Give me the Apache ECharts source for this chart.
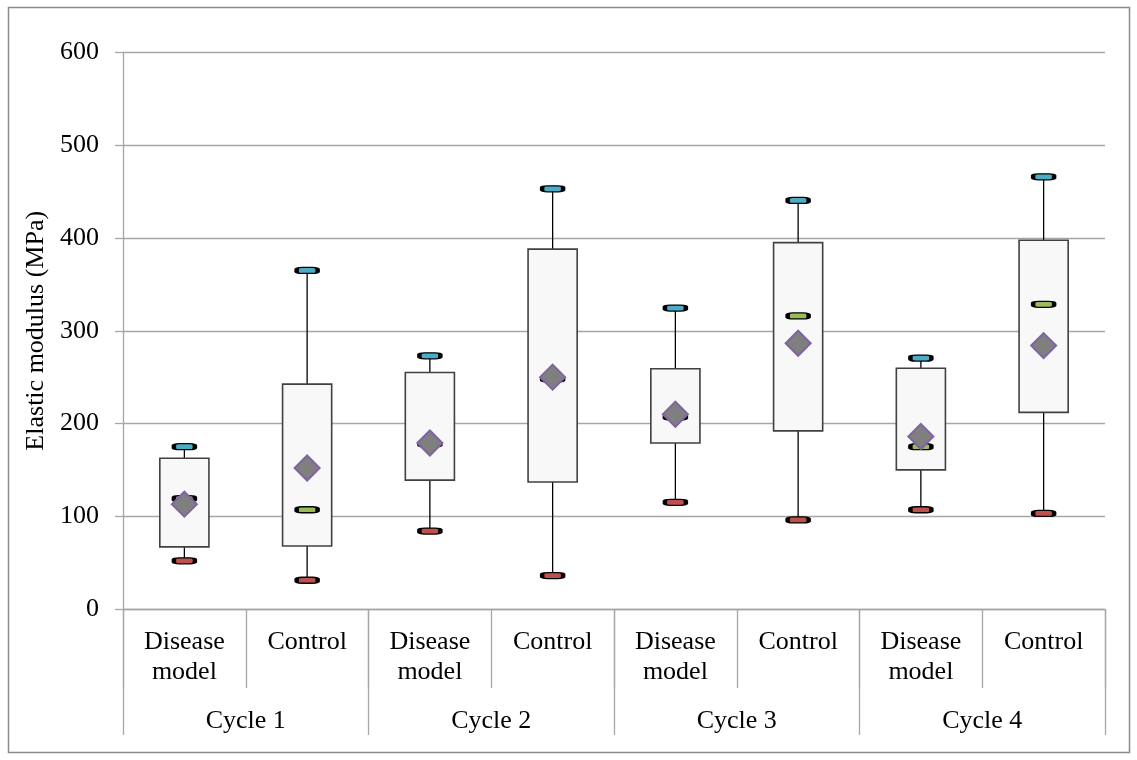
<!DOCTYPE html>
<html>
<head>
<meta charset="utf-8">
<title>Elastic modulus by cycle</title>
<script src="https://cdn.jsdelivr.net/npm/echarts@6/dist/echarts.min.js"></script>
<style>
  html, body { margin: 0; padding: 0; background: #ffffff; }
  #chart { width: 1137px; height: 760px; }
</style>
</head>
<body>
<div id="chart"></div>
<script>
// Groups along the x axis (two per cycle)
const categories = ['Disease\nmodel', 'Control', 'Disease\nmodel', 'Control',
                    'Disease\nmodel', 'Control', 'Disease\nmodel', 'Control'];
const cycles = ['Cycle 1', 'Cycle 2', 'Cycle 3', 'Cycle 4'];
const yTicks = { min: 0, max: 600, interval: 100 };

// Five-number summaries and means per group (MPa)
const minVals    = [52, 31, 84, 36, 115, 96, 107, 103];
const q1Vals     = [67, 68, 139, 137, 179, 192, 150, 212];
const medianVals = [119, 107, 178, 248, 207, 316, 175, 328.5];
const q3Vals     = [162.5, 242.5, 255, 388, 259, 395, 259.5, 397.5];
const maxVals    = [175, 365, 273, 453, 324.5, 440.5, 270.5, 466];
const meanVals   = [113, 152, 179, 250, 210, 286.5, 186, 284];

const FONT = "'Liberation Serif', 'Times New Roman', serif";
const AXIS_GRAY = '#a6a6a6';
const FS = 26;

const boxData = categories.map((c, i) => [i, minVals[i], q1Vals[i], medianVals[i], q3Vals[i], maxVals[i]]);
const pts = arr => arr.map((v, i) => [i, v]);

const chart = echarts.init(document.getElementById('chart'), null, { renderer: 'canvas' });

// Box (Q1..Q3) with whiskers from min to Q1 and Q3 to max
function renderBox(params, api) {
  const i = api.value(0);
  const pMin = api.coord([i, api.value(1)]);
  const pQ1 = api.coord([i, api.value(2)]);
  const pQ3 = api.coord([i, api.value(4)]);
  const pMax = api.coord([i, api.value(5)]);
  const w = api.size([1, 0])[0] * 0.4;
  const x = pQ1[0];
  const lineStyle = { stroke: '#000000', lineWidth: 1.3 };
  return {
    type: 'group',
    children: [
      { type: 'line', shape: { x1: x, y1: pMin[1], x2: x, y2: pQ1[1] }, style: lineStyle },
      { type: 'line', shape: { x1: x, y1: pQ3[1], x2: x, y2: pMax[1] }, style: lineStyle },
      {
        type: 'rect',
        shape: { x: x - w / 2, y: pQ3[1], width: w, height: pQ1[1] - pQ3[1] },
        style: { fill: '#f8f8f8', stroke: '#404040', lineWidth: 1.6 }
      }
    ]
  };
}

const capStyle = color => ({ color: color, borderColor: '#000000', borderWidth: 2.4, opacity: 1 });

const option = {
  backgroundColor: '#ffffff',
  animation: false,
  textStyle: { fontFamily: FONT },
  graphic: [{
    type: 'rect',
    shape: { x: 8.5, y: 7.5, width: 1121, height: 745 },
    style: { fill: 'none', stroke: '#8c8c8c', lineWidth: 1.5 },
    silent: true,
    z: -10
  }],
  grid: { left: 123, right: 32, top: 52.5, bottom: 151, containLabel: false },
  xAxis: [
    {
      type: 'category',
      data: categories,
      position: 'bottom',
      boundaryGap: true,
      axisLine: { show: true, lineStyle: { color: AXIS_GRAY, width: 1.3 } },
      axisTick: { show: true, interval: 0, length: 79, lineStyle: { color: AXIS_GRAY, width: 1.3 } },
      axisLabel: {
        interval: 0, margin: 18, color: '#000000', fontFamily: FONT, fontSize: FS,
        lineHeight: 30, verticalAlign: 'top'
      },
      splitLine: { show: false }
    },
    {
      type: 'category',
      data: cycles,
      position: 'bottom',
      offset: 0,
      boundaryGap: true,
      axisLine: { show: false },
      axisTick: { show: true, interval: 0, length: 126, lineStyle: { color: AXIS_GRAY, width: 1.3 } },
      axisLabel: {
        interval: 0, margin: 99, color: '#000000', fontFamily: FONT, fontSize: FS,
        verticalAlign: 'top'
      },
      splitLine: { show: false }
    }
  ],
  yAxis: {
    type: 'value',
    min: yTicks.min,
    max: yTicks.max,
    interval: yTicks.interval,
    name: 'Elastic modulus (MPa)',
    nameLocation: 'middle',
    nameRotate: 90,
    nameGap: 70,
    nameTextStyle: { color: '#000000', fontFamily: FONT, fontSize: FS },
    axisLine: { show: true, lineStyle: { color: AXIS_GRAY, width: 1.3 } },
    axisTick: { show: true, inside: false, length: 8, lineStyle: { color: AXIS_GRAY, width: 1.3 } },
    axisLabel: { margin: 24, color: '#000000', fontFamily: FONT, fontSize: FS },
    splitLine: { show: true, lineStyle: { color: AXIS_GRAY, width: 1.3 } }
  },
  series: [
    {
      name: 'Box',
      type: 'custom',
      xAxisIndex: 0,
      renderItem: renderBox,
      data: boxData,
      encode: { x: 0, y: [1, 2, 3, 4, 5] },
      z: 2
    },
    {
      name: 'Max',
      type: 'scatter',
      xAxisIndex: 0,
      data: pts(maxVals),
      symbol: 'roundRect',
      symbolSize: [21, 6],
      itemStyle: capStyle('#4bacc6'),
      z: 3
    },
    {
      name: 'Min',
      type: 'scatter',
      xAxisIndex: 0,
      data: pts(minVals),
      symbol: 'roundRect',
      symbolSize: [21, 6],
      itemStyle: capStyle('#c0504d'),
      z: 3
    },
    {
      name: 'Median',
      type: 'scatter',
      xAxisIndex: 0,
      data: pts(medianVals),
      symbol: 'roundRect',
      symbolSize: [21, 6],
      itemStyle: capStyle('#9bbb59'),
      z: 4
    },
    {
      name: 'Mean',
      type: 'scatter',
      xAxisIndex: 0,
      data: pts(meanVals),
      symbol: 'diamond',
      symbolSize: [25, 25],
      itemStyle: { color: '#7f7f7f', borderColor: '#8064a2', borderWidth: 2, opacity: 1 },
      z: 5
    }
  ]
};

chart.setOption(option);
</script>
</body>
</html>
